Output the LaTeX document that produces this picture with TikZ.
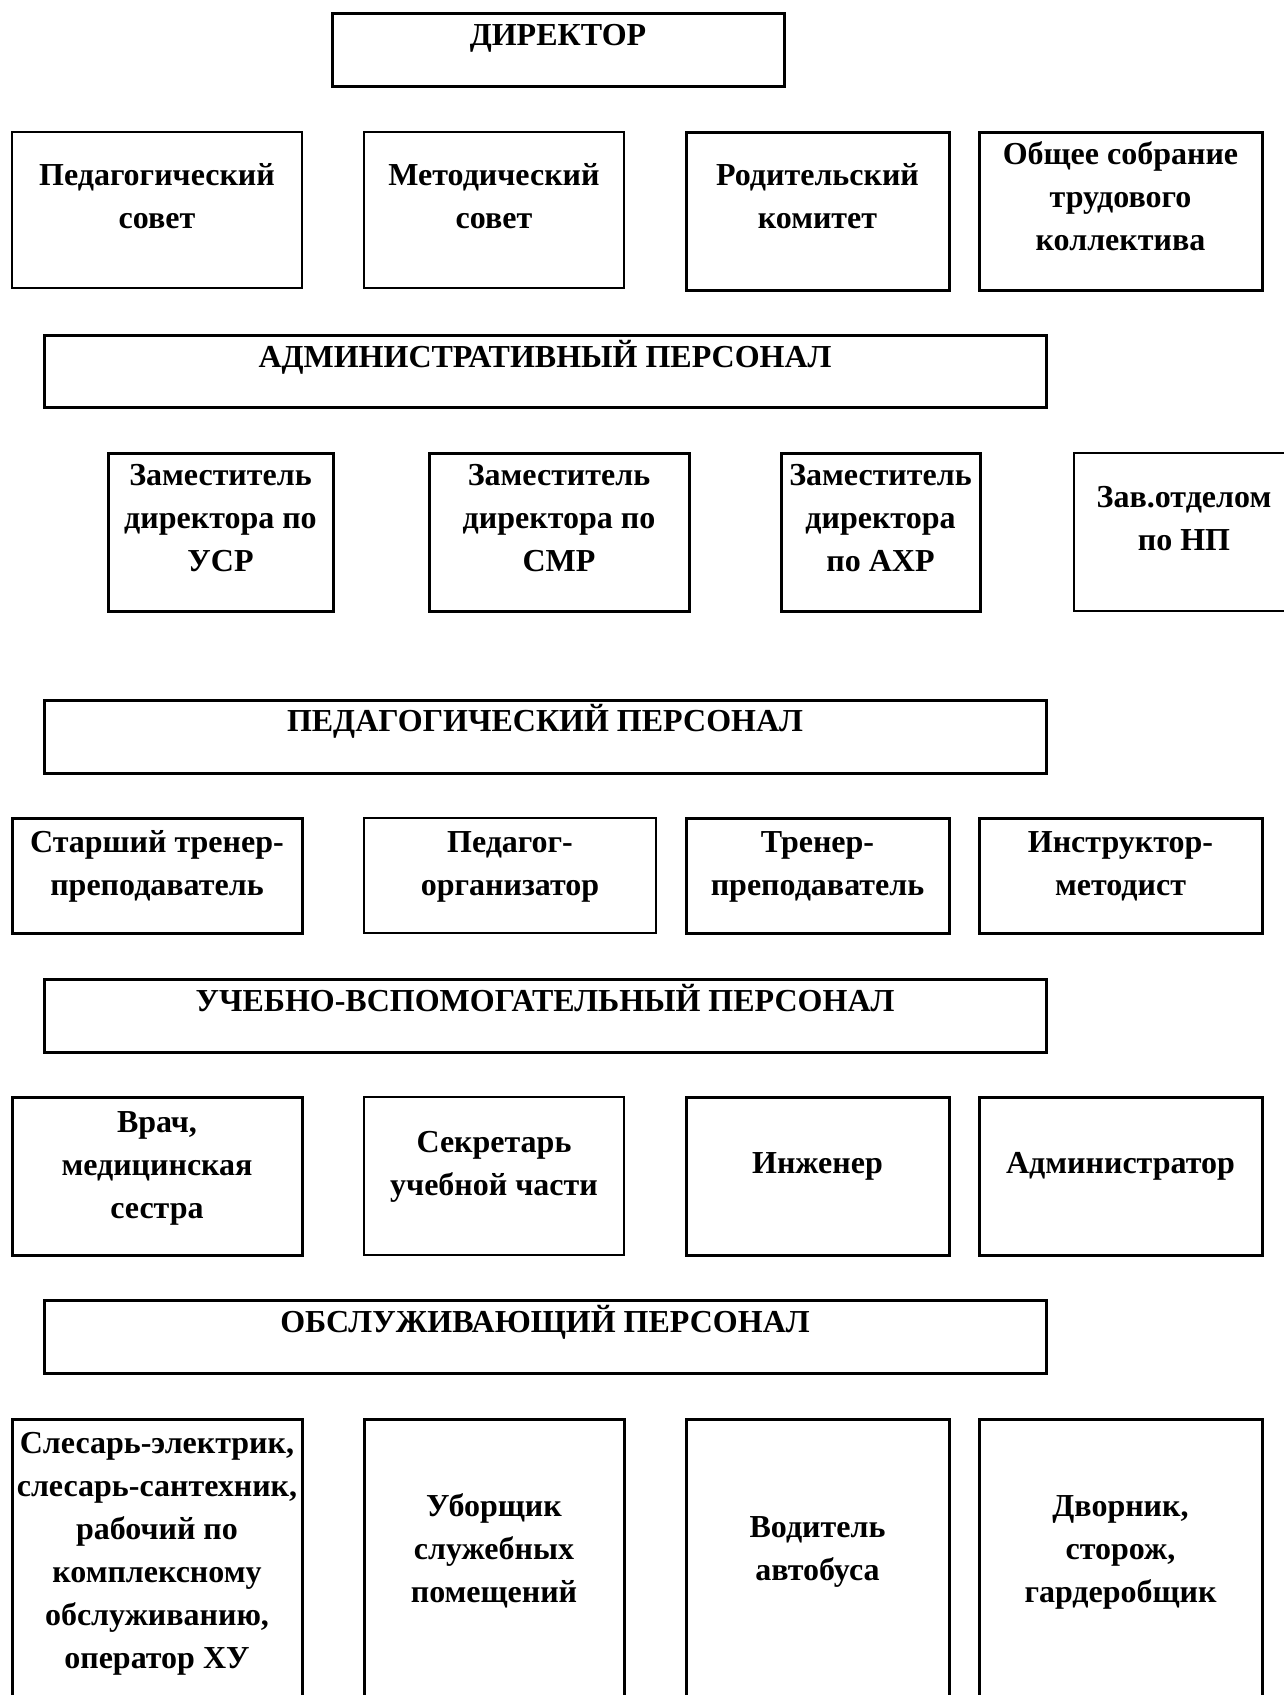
\documentclass[tikz,border=0pt]{standalone}
\usepackage{fontspec}
\setmainfont{Liberation Serif}
\begin{document}
\begin{tikzpicture}[x=1pt,y=-1pt,
  thinbox/.style={draw=black,line width=2pt},
  thickbox/.style={draw=black,line width=3pt},
  txt/.style={anchor=base,align=center,inner sep=0pt,font=\fontsize{32}{43}\selectfont\bfseries}]
\useasboundingbox (0,0) rectangle (1283,1695);
% boxes
\newcommand{\bx}[6]{\node[#1,anchor=north west,minimum width=#4-#2,minimum height=#5-#3,inner sep=0pt,outer sep=0pt] (#6) at (#2,#3) {};}
\bx{thickbox}{332}{13}{784}{86}{dir}
\bx{thinbox}{12}{132}{302}{288}{ps}
\bx{thinbox}{364}{132}{624}{288}{ms}
\bx{thickbox}{686}{132}{949}{290}{rk}
\bx{thickbox}{979}{132}{1262}{290}{os}
\bx{thickbox}{44}{335}{1046}{407}{adm}
\bx{thickbox}{108}{453}{333}{611}{zusr}
\bx{thickbox}{429}{453}{689}{611}{zsmr}
\bx{thickbox}{781}{453}{980}{611}{zaxr}
\bx{thinbox}{1074}{453}{1294}{611}{zav}
\bx{thickbox}{44}{700}{1046}{773}{ped}
\bx{thickbox}{12}{818}{302}{933}{stp}
\bx{thinbox}{364}{818}{656}{933}{po}
\bx{thickbox}{686}{818}{949}{933}{tp}
\bx{thickbox}{979}{818}{1262}{933}{im}
\bx{thickbox}{44}{979}{1046}{1052}{uvp}
\bx{thickbox}{12}{1097}{302}{1255}{vr}
\bx{thinbox}{364}{1097}{624}{1255}{su}
\bx{thickbox}{686}{1097}{949}{1255}{inz}
\bx{thickbox}{979}{1097}{1262}{1255}{adr}
\bx{thickbox}{44}{1300}{1046}{1373}{obs}
\bx{thickbox}{12}{1419}{302}{1712}{sl}
\bx{thickbox}{364}{1419}{624}{1712}{ub}
\bx{thickbox}{686}{1419}{949}{1712}{vd}
\bx{thickbox}{979}{1419}{1262}{1712}{dv}
% texts (anchor base = baseline of the last line)
\node[txt] (tdir) at (dir.north |- 0,45) {ДИРЕКТОР};
\node[txt] (tps) at (ps.north |- 0,228) {Педагогический\\совет};
\node[txt] (tms) at (ms.north |- 0,228) {Методический\\совет};
\node[txt] (trk) at (rk.north |- 0,228) {Родительский\\комитет};
\node[txt] (tos) at (os.north |- 0,250) {Общее собрание\\трудового\\коллектива};
\node[txt] (tadm) at (adm.north |- 0,367) {АДМИНИСТРАТИВНЫЙ ПЕРСОНАЛ};
\node[txt] (tzusr) at (zusr.north |- 0,571) {Заместитель\\директора по\\УСР};
\node[txt] (tzsmr) at (zsmr.north |- 0,571) {Заместитель\\директора по\\СМР};
\node[txt] (tzaxr) at (zaxr.north |- 0,571) {Заместитель\\директора\\по АХР};
\node[txt] (tzav) at (zav.north |- 0,550) {Зав.отделом\\по НП};
\node[txt] (tped) at (ped.north |- 0,731) {ПЕДАГОГИЧЕСКИЙ ПЕРСОНАЛ};
\node[txt] (tstp) at (stp.north |- 0,895) {Старший тренер-\\преподаватель};
\node[txt] (tpo) at (po.north |- 0,895) {Педагог-\\организатор};
\node[txt] (ttp) at (tp.north |- 0,895) {Тренер-\\преподаватель};
\node[txt] (tim) at (im.north |- 0,895) {Инструктор-\\методист};
\node[txt] (tuvp) at (uvp.north |- 0,1011) {УЧЕБНО-ВСПОМОГАТЕЛЬНЫЙ ПЕРСОНАЛ};
\node[txt] (tvr) at (vr.north |- 0,1218) {Врач,\\медицинская\\сестра};
\node[txt] (tsu) at (su.north |- 0,1195) {Секретарь\\учебной части};
\node[txt] (tinz) at (inz.north |- 0,1173) {Инженер};
\node[txt] (tadr) at (adr.north |- 0,1173) {Администратор};
\node[txt] (tobs) at (obs.north |- 0,1332) {ОБСЛУЖИВАЮЩИЙ ПЕРСОНАЛ};
\node[txt] (tsl) at (sl.north |- 0,1668) {Слесарь-электрик,\\слесарь-сантехник,\\рабочий по\\комплексному\\обслуживанию,\\оператор ХУ};
\node[txt] (tub) at (ub.north |- 0,1602) {Уборщик\\служебных\\помещений};
\node[txt] (tvd) at (vd.north |- 0,1580) {Водитель\\автобуса};
\node[txt] (tdv) at (dv.north |- 0,1602) {Дворник,\\сторож,\\гардеробщик};
\end{tikzpicture}
\end{document}
